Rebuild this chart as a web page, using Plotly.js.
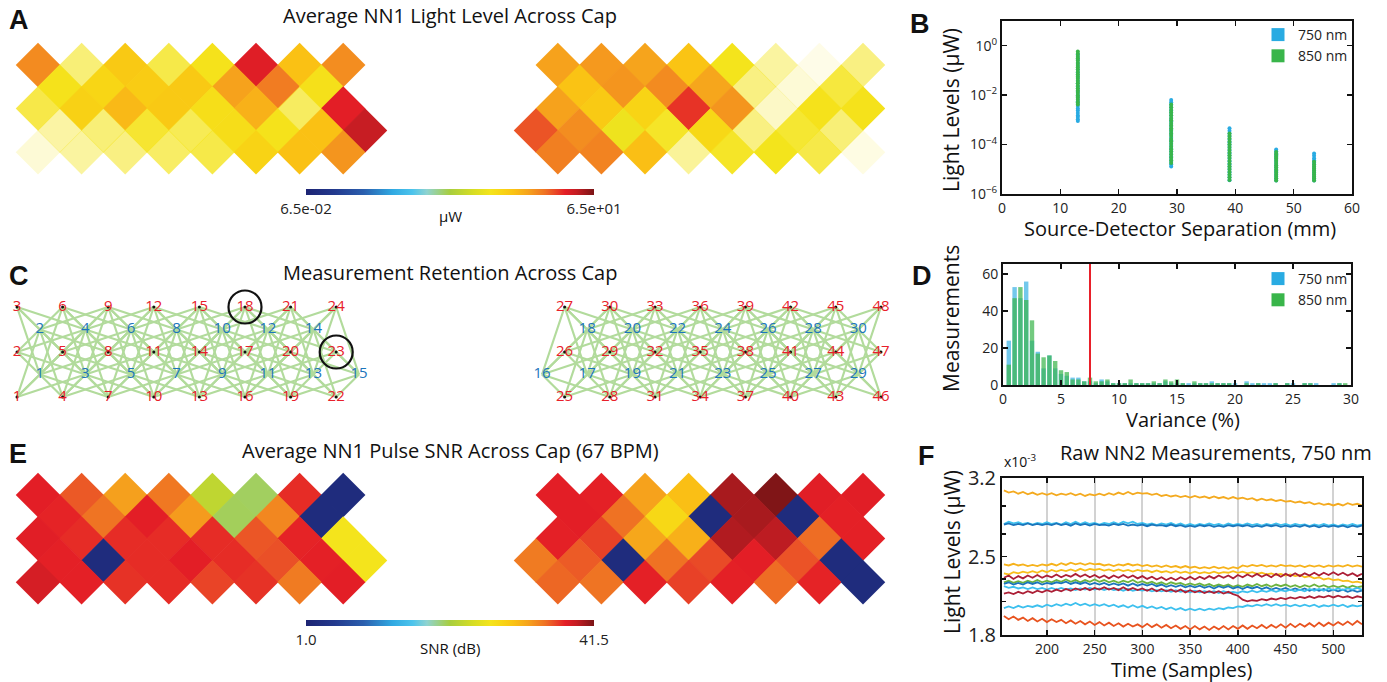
<!DOCTYPE html>
<html><head><meta charset="utf-8">
<script src="https://cdn.plot.ly/plotly-3.0.1.min.js"></script>
<style>html,body{margin:0;padding:0;background:#fff;}#chart{width:1387px;height:682px;}</style>
</head><body><div id="chart"></div>
<script>
// ================= DATA =================
// Cap lattice: columns occupied in each of the 5 measurement rows
const leftCols  = [[0,2,4,6,8,10,12,14],[1,3,5,7,9,11,13],[0,2,4,6,8,10,12,14],[1,3,5,7,9,11,13,15],[0,2,4,6,8,10,12,14]];
const rightCols = [[1,3,5,7,9,11,13,15],[2,4,6,8,10,12,14],[1,3,5,7,9,11,13,15],[0,2,4,6,8,10,12,14],[1,3,5,7,9,11,13,15]];

// Panel A: average NN1 light level (uW) and display alpha
const lightLeft = [[16.3,5.4,8.6,5.4,5.6,34,9.6,16],[5.6,7.0,8.2,8.6,13.5,18.5,5.8],[5.6,7.6,10.5,8.6,6.0,11.5,5.4,33],[5.4,5.4,5.6,5.4,6.2,5.6,9.6,42],[5.4,5.4,5.4,5.4,5.4,7.4,9.6,15]];
const alphaLeft = [[1,0.6,1,0.8,1,1,1,1],[1,1,1,1,1,1,1],[0.8,1,1,1,1,1,0.7,1],[0.4,0.6,0.9,0.75,1,1,1,1],[0.18,0.42,0.55,0.68,0.8,1,1,1]];
const lightRight = [[13.5,14.5,13.2,9.2,5.4,5.4,5.4,5.4],[9.4,15,16.3,13,5.4,5.4,5.4],[13.5,8.4,7.2,29,15,5.4,5.6,5.6],[24,16,5.0,5.4,6.8,5.4,5.4,5.4],[18,17.5,9.8,5.4,5.4,5.3,5.4,5.4]];
const alphaRight = [[1,1,1,1,1,0.42,0.1,0.55],[1,1,1,1,0.55,0.18,0.85],[1,1,1,1,1,0.25,1,1],[1,1,1,0.95,1,0.55,0.9,0.6],[1,1,1,0.45,0.95,1,0.8,0.12]];
const lightMin = 0.065, lightMax = 65;

// Panel E: average NN1 pulse SNR (dB)
const snrLeft = [[37.5,35.5,32.4,34.3,22.9,20.5,37.0,2.5],[37.3,34.5,37.5,32.6,20.6,33.6,2.5],[37.6,37.0,37.0,37.0,37.0,35.6,37.3,26.9],[37.4,2.5,37.0,37.5,37.0,35.8,37.4,26.9],[38.2,37.4,36.8,37.0,36.2,36.8,34.2,37.5]];
const snrRight = [[37.5,37.4,32.3,30.4,40.0,41.3,37.6,37.6],[37.5,34.6,28.2,2.5,40.0,2.5,37.4],[37.4,36.3,32.0,31.4,39.7,39.3,34.8,37.4],[34.2,35.4,2.5,34.6,36.0,37.5,35.7,2.5],[35.0,34.5,37.4,36.3,37.4,34.8,37.3,2.5]];
const snrMin = 1.0, snrMax = 41.5;

// Panel C: optode grid (half-spacing units)
const leftSrcLabel = [1,2,3,4,5,6,7,8,9,10,11,12,13,14,15,16,17,18,19,20,21,22,23,24];
const leftSrcU = [0,0,0,2,2,2,4,4,4,6,6,6,8,8,8,10,10,10,12,12,12,14,14,14];
const leftSrcV = [0,2,4,0,2,4,0,2,4,0,2,4,0,2,4,0,2,4,0,2,4,0,2,4];
const leftDetLabel = [1,2,3,4,5,6,7,8,9,10,11,12,13,14,15];
const leftDetU = [1,1,3,3,5,5,7,7,9,9,11,11,13,13,15];
const leftDetV = [1,3,1,3,1,3,1,3,1,3,1,3,1,3,1];
const rightSrcLabel = [25,26,27,28,29,30,31,32,33,34,35,36,37,38,39,40,41,42,43,44,45,46,47,48];
const rightSrcU = [1,1,1,3,3,3,5,5,5,7,7,7,9,9,9,11,11,11,13,13,13,15,15,15];
const rightSrcV = [0,2,4,0,2,4,0,2,4,0,2,4,0,2,4,0,2,4,0,2,4,0,2,4];
const rightDetLabel = [16,17,18,19,20,21,22,23,24,25,26,27,28,29,30];
const rightDetU = [0,2,2,4,4,6,6,8,8,10,10,12,12,14,14];
const rightDetV = [1,1,3,1,3,1,3,1,3,1,3,1,3,1,3];
const maxNeighborDist2 = 18;   // NN1-NN3 retained
const circledSources = [18, 23];

// Panel B: light level vs separation
const separations = [13, 29, 39, 47, 53.5];
const ll750_13 = [0.0009,0.00105,0.0013,0.0015,0.0019,0.0024,0.0029,0.0036,0.0045,0.0056,0.007,0.0088,0.011,0.014,0.018,0.023,0.03,0.038,0.05,0.065,0.085,0.11,0.15,0.2,0.27,0.35,0.45];
const ll850_13 = [0.0042,0.0052,0.0065,0.008,0.01,0.0125,0.0155,0.019,0.024,0.03,0.037,0.046,0.057,0.07,0.087,0.108,0.134,0.166,0.2,0.25,0.31,0.38,0.47,0.58];
const ll750_29 = [1.3e-5,1.6e-5,2e-5,2.6e-5,3.3e-5,4.2e-5,5.4e-5,7e-5,9e-5,1.15e-4,1.5e-4,1.9e-4,2.5e-4,3.2e-4,4.1e-4,5.3e-4,6.8e-4,8.8e-4,1.1e-3,1.45e-3,1.9e-3,2.4e-3,3.1e-3,4e-3,5.1e-3,6.3e-3];
const ll850_29 = [1.8e-5,2.3e-5,3e-5,4e-5,5.1e-5,6.5e-5,8.2e-5,1.05e-4,1.35e-4,1.7e-4,2.2e-4,2.8e-4,3.6e-4,4.6e-4,5.9e-4,7.5e-4,9.6e-4,1.2e-3,1.55e-3,2e-3,2.5e-3,3.2e-3,4.2e-3];
const ll750_39 = [3.6e-6,4.6e-6,5.9e-6,7.6e-6,9.8e-6,1.25e-5,1.6e-5,2.1e-5,2.7e-5,3.5e-5,4.5e-5,5.8e-5,7.5e-5,9.7e-5,1.25e-4,1.6e-4,2.1e-4,2.8e-4,3.6e-4,4.6e-4];
const ll850_39 = [3.7e-6,4.8e-6,6.2e-6,8e-6,1.03e-5,1.33e-5,1.7e-5,2.2e-5,2.9e-5,3.7e-5,4.8e-5,6.2e-5,8e-5,1.03e-4,1.33e-4,1.75e-4,2.3e-4,2.8e-4];
const ll750_47 = [3.5e-6,4.2e-6,5.1e-6,6.2e-6,7.6e-6,9.2e-6,1.12e-5,1.36e-5,1.65e-5,2e-5,2.45e-5,3e-5,3.7e-5,4.5e-5,5.4e-5,6.3e-5];
const ll850_47 = [3.5e-6,4.3e-6,5.3e-6,6.5e-6,8e-6,9.8e-6,1.2e-5,1.47e-5,1.8e-5,2.2e-5,2.7e-5,3.3e-5,4.1e-5,5e-5];
const ll750_53 = [3.5e-6,4.2e-6,5e-6,6e-6,7.2e-6,8.7e-6,1.05e-5,1.27e-5,1.55e-5,1.9e-5,2.3e-5,2.8e-5,3.5e-5,4.4e-5];
const ll850_53 = [3.5e-6,4.2e-6,5e-6,6e-6,7.2e-6,8.7e-6,1.05e-5,1.27e-5,1.55e-5,2e-5];

// Panel D: variance histogram
const varBins = [0.5,1,1.5,2,2.5,3,3.5,4,4.5,5,5.5,6,6.5,7,7.5,8,8.5,9,9.5,10,10.5,11,11.5,12,12.5,13,13.5,14,14.5,15,15.5,16,16.5,17,17.5,18,18.5,19,19.5,20,20.5,21,21.5,22,22.5,23,23.5,24,24.5,25,25.5,26,26.5,27,27.5,28,28.5,29,29.5];
const var750 = [24,53,47,56,24,18,9,16,9,6,5,4,4,2,2,1,3,2,1,1,1,1,1,1,1,1,1,2,1,1,1,1,1,1,1,2,1,1,1,1,0,2,1,1,1,1,1,0,1,1,0,1,1,1,0,0,1,1,0];
const var850 = [11,47,53,46,35,17,15,16,13,8,7,3,3,2,4,2,2,3,1,1,1,3,1,1,1,2,1,3,2,3,1,0,2,1,1,1,1,1,1,0,0,1,0,1,0,0,1,0,1,0,0,1,1,0,0,0,0,1,1];
const varianceThreshold = 7.5;

// Panel F: raw NN2 measurements (x10^-3 uW)
const tSamples = [155,160,165,170,175,180,185,190,195,200,205,210,215,220,225,230,235,240,245,250,255,260,265,270,275,280,285,290,295,300,305,310,315,320,325,330,335,340,345,350,355,360,365,370,375,380,385,390,395,400,405,410,415,420,425,430,435,440,445,450,455,460,465,470,475,480,485,490,495,500,505,510,515,520,525,530];
const nn2_a = [3.09,3.07,3.08,3.06,3.075,3.055,3.07,3.05,3.065,3.05,3.065,3.045,3.06,3.05,3.065,3.045,3.06,3.04,3.055,3.045,3.06,3.045,3.065,3.05,3.07,3.055,3.075,3.055,3.07,3.06,3.065,3.05,3.06,3.04,3.05,3.035,3.045,3.03,3.04,3.025,3.04,3.025,3.035,3.02,3.035,3.02,3.03,3.015,3.03,3.015,3.025,3.01,3.02,3.0,3.015,3.0,3.01,2.995,3.005,2.99,2.995,2.98,2.99,2.975,2.985,2.965,2.975,2.96,2.97,2.955,2.97,2.955,2.975,2.96,2.97,2.955];
const nn2_b = [2.79,2.81,2.795,2.805,2.79,2.80,2.785,2.80,2.79,2.805,2.79,2.80,2.785,2.805,2.79,2.81,2.79,2.805,2.79,2.80,2.785,2.80,2.79,2.805,2.79,2.81,2.795,2.81,2.79,2.80,2.785,2.795,2.78,2.795,2.785,2.80,2.78,2.795,2.775,2.79,2.775,2.79,2.78,2.795,2.78,2.79,2.775,2.795,2.78,2.79,2.78,2.795,2.78,2.79,2.775,2.79,2.78,2.795,2.78,2.79,2.775,2.79,2.78,2.785,2.77,2.785,2.775,2.79,2.775,2.785,2.77,2.785,2.775,2.79,2.775,2.785];
const nn2_c = [2.785,2.795,2.78,2.79,2.78,2.795,2.78,2.79,2.78,2.79,2.78,2.795,2.78,2.79,2.775,2.795,2.78,2.79,2.775,2.79,2.78,2.785,2.775,2.79,2.78,2.79,2.775,2.785,2.775,2.785,2.77,2.785,2.775,2.78,2.77,2.785,2.77,2.78,2.765,2.775,2.765,2.78,2.77,2.78,2.765,2.775,2.765,2.78,2.77,2.78,2.77,2.78,2.765,2.775,2.765,2.78,2.77,2.78,2.765,2.775,2.765,2.775,2.765,2.78,2.765,2.775,2.76,2.775,2.765,2.775,2.765,2.775,2.76,2.775,2.765,2.775];
const nn2_d = [2.43,2.42,2.435,2.42,2.43,2.415,2.425,2.415,2.43,2.42,2.435,2.42,2.44,2.425,2.445,2.43,2.44,2.425,2.44,2.43,2.435,2.42,2.43,2.415,2.43,2.42,2.435,2.42,2.43,2.415,2.425,2.41,2.42,2.405,2.42,2.405,2.415,2.40,2.415,2.40,2.41,2.395,2.405,2.395,2.41,2.395,2.405,2.39,2.405,2.395,2.42,2.41,2.425,2.415,2.425,2.41,2.42,2.41,2.425,2.415,2.42,2.41,2.42,2.405,2.42,2.41,2.42,2.405,2.42,2.41,2.42,2.41,2.425,2.41,2.42,2.41];
const nn2_e = [2.35,2.34,2.36,2.35,2.365,2.355,2.37,2.355,2.375,2.36,2.38,2.365,2.38,2.37,2.385,2.37,2.39,2.375,2.39,2.38,2.39,2.375,2.385,2.37,2.385,2.37,2.38,2.365,2.38,2.37,2.375,2.36,2.375,2.36,2.37,2.355,2.37,2.355,2.365,2.35,2.365,2.35,2.36,2.35,2.365,2.35,2.36,2.355,2.37,2.355,2.365,2.35,2.36,2.345,2.355,2.34,2.35,2.335,2.345,2.33,2.34,2.325,2.335,2.315,2.325,2.305,2.315,2.295,2.305,2.29,2.295,2.28,2.285,2.27,2.275,2.265];
const nn2_f = [2.31,2.33,2.30,2.325,2.305,2.33,2.31,2.335,2.31,2.33,2.315,2.34,2.315,2.335,2.32,2.345,2.32,2.34,2.315,2.335,2.31,2.33,2.305,2.33,2.31,2.335,2.31,2.33,2.305,2.325,2.30,2.32,2.295,2.315,2.29,2.31,2.29,2.315,2.295,2.32,2.295,2.32,2.30,2.325,2.305,2.33,2.31,2.33,2.305,2.335,2.315,2.34,2.32,2.345,2.32,2.34,2.315,2.345,2.32,2.345,2.325,2.35,2.325,2.35,2.33,2.355,2.33,2.355,2.335,2.36,2.335,2.355,2.33,2.35,2.325,2.345];
const nn2_g = [2.27,2.285,2.265,2.28,2.265,2.285,2.27,2.29,2.27,2.285,2.27,2.29,2.275,2.295,2.275,2.29,2.27,2.29,2.275,2.295,2.275,2.29,2.27,2.285,2.265,2.285,2.27,2.29,2.265,2.28,2.26,2.275,2.255,2.27,2.25,2.27,2.255,2.265,2.245,2.26,2.245,2.26,2.24,2.255,2.235,2.25,2.235,2.25,2.23,2.245,2.23,2.25,2.235,2.255,2.235,2.25,2.23,2.25,2.235,2.25,2.23,2.245,2.225,2.245,2.23,2.25,2.23,2.245,2.225,2.24,2.225,2.24,2.22,2.24,2.225,2.235];
const nn2_h = [2.255,2.27,2.25,2.265,2.25,2.27,2.255,2.27,2.25,2.265,2.255,2.27,2.26,2.275,2.255,2.27,2.255,2.27,2.25,2.265,2.25,2.265,2.245,2.26,2.245,2.26,2.24,2.26,2.24,2.255,2.24,2.255,2.235,2.25,2.23,2.245,2.23,2.245,2.225,2.24,2.225,2.24,2.22,2.235,2.215,2.235,2.22,2.235,2.215,2.23,2.21,2.23,2.215,2.23,2.21,2.225,2.205,2.22,2.205,2.22,2.2,2.215,2.2,2.215,2.195,2.21,2.195,2.21,2.19,2.205,2.19,2.205,2.185,2.2,2.185,2.195];
const nn2_i = [2.235,2.22,2.23,2.215,2.225,2.21,2.225,2.21,2.22,2.205,2.22,2.205,2.22,2.205,2.215,2.20,2.215,2.205,2.22,2.205,2.215,2.20,2.215,2.20,2.21,2.195,2.21,2.195,2.205,2.195,2.205,2.19,2.20,2.19,2.20,2.185,2.20,2.185,2.195,2.18,2.195,2.18,2.19,2.18,2.19,2.175,2.19,2.175,2.185,2.175,2.19,2.18,2.195,2.18,2.195,2.185,2.2,2.185,2.2,2.19,2.205,2.19,2.205,2.19,2.21,2.195,2.21,2.195,2.215,2.2,2.215,2.2,2.215,2.205,2.22,2.205];
const nn2_j = [2.17,2.18,2.165,2.185,2.17,2.19,2.175,2.195,2.18,2.2,2.185,2.205,2.19,2.21,2.195,2.215,2.2,2.22,2.2,2.22,2.205,2.225,2.205,2.22,2.2,2.225,2.2,2.22,2.2,2.215,2.195,2.215,2.19,2.21,2.19,2.205,2.185,2.205,2.18,2.2,2.18,2.195,2.175,2.19,2.175,2.19,2.17,2.185,2.165,2.15,2.115,2.1,2.11,2.105,2.12,2.11,2.125,2.115,2.13,2.12,2.135,2.125,2.14,2.13,2.145,2.13,2.145,2.135,2.15,2.135,2.15,2.135,2.145,2.13,2.145,2.135];
const nn2_k = [2.04,2.055,2.04,2.06,2.045,2.06,2.05,2.065,2.05,2.07,2.055,2.075,2.06,2.08,2.065,2.085,2.065,2.08,2.06,2.075,2.06,2.075,2.055,2.07,2.05,2.065,2.045,2.065,2.045,2.06,2.04,2.055,2.035,2.05,2.03,2.045,2.025,2.04,2.02,2.035,2.02,2.035,2.02,2.035,2.025,2.04,2.03,2.045,2.04,2.055,2.05,2.065,2.055,2.07,2.06,2.075,2.06,2.075,2.06,2.07,2.055,2.07,2.055,2.07,2.055,2.07,2.05,2.065,2.055,2.07,2.055,2.07,2.05,2.065,2.055,2.065];
const nn2_l = [1.97,1.94,1.965,1.935,1.955,1.925,1.95,1.92,1.945,1.915,1.94,1.915,1.935,1.905,1.93,1.9,1.925,1.895,1.92,1.89,1.915,1.885,1.91,1.88,1.905,1.875,1.9,1.875,1.895,1.87,1.9,1.87,1.895,1.865,1.89,1.86,1.885,1.855,1.88,1.85,1.88,1.85,1.875,1.845,1.875,1.85,1.88,1.85,1.88,1.855,1.885,1.855,1.885,1.86,1.89,1.86,1.89,1.865,1.895,1.865,1.9,1.87,1.9,1.875,1.905,1.875,1.91,1.88,1.91,1.885,1.915,1.89,1.92,1.89,1.925,1.895];

// ================= STYLE / LAYOUT =================
const W = 1387, H = 682;
const FONT = 'Open Sans, Noto Sans, sans-serif';
const xd = (a, b) => [a / W, b / W];
const yd = (top, bottom) => [1 - bottom / H, 1 - top / H];
const jet = [[0,'#1D2473'],[0.1,'#233A8E'],[0.2,'#2B5FAE'],[0.3,'#30A9E2'],[0.37,'#4DC4EC'],[0.42,'#8FD3D0'],[0.5,'#A8CE3E'],[0.58,'#D6DD24'],[0.64,'#F4E41C'],[0.68,'#F8D515'],[0.72,'#FAC314'],[0.77,'#F6A41C'],[0.8,'#F38B20'],[0.83,'#EF7223'],[0.86,'#EA4F27'],[0.9,'#E41E26'],[0.94,'#C41D23'],[1,'#7A1416']];
const DSIZE = 34.2;

function diamondTrace(cols, vals, alphas, xa, ya, toColor, cmin, cmax, colorbar) {
  const x = [], y = [], c = [], o = [];
  cols.forEach((row, r) => row.forEach((col, k) => {
    x.push(col); y.push(r); c.push(toColor(vals[r][k])); o.push(alphas ? alphas[r][k] : 1);
  }));
  return {type:'scatter', mode:'markers', x, y, xaxis:xa, yaxis:ya, cliponaxis:false, showlegend:false, hoverinfo:'skip',
    marker:{symbol:'diamond', size:DSIZE, color:c, opacity:o, colorscale:jet, cmin, cmax, line:{width:0},
      showscale: !!colorbar, colorbar: colorbar || undefined}};
}
const lg = v => Math.log10(v);
const lmin = lg(lightMin), lmax = lg(lightMax);
function hbar(cy, tv, tt) {
  return {orientation:'h', x:450/W, xanchor:'center', y:1-cy/H, yanchor:'middle', len:288, lenmode:'pixels',
    thickness:6, thicknessmode:'pixels', outlinewidth:0, ticks:'', tickvals:tv, ticktext:tt, xpad:0, ypad:0,
    tickfont:{family:FONT, size:15, color:'#222'}};
}

const traces = [];
traces.push(diamondTrace(leftCols, lightLeft, alphaLeft, 'x', 'y', lg, lmin, lmax, hbar(202.5, [lmin, lmax], ['6.5e-02','6.5e+01'])));
traces.push(diamondTrace(rightCols, lightRight, alphaRight, 'x2', 'y2', lg, lmin, lmax, null));
traces.push(diamondTrace(leftCols, snrLeft, null, 'x5', 'y5', v => v, snrMin, snrMax, hbar(633, [snrMin, snrMax], ['1.0','41.5'])));
traces.push(diamondTrace(rightCols, snrRight, null, 'x6', 'y6', v => v, snrMin, snrMax, null));

// Panel C network
function capTraces(sU, sV, sL, dU, dV, dL, xa, ya, circled) {
  const ex = [], ey = [];
  sU.forEach((su, i) => dU.forEach((du, j) => {
    const d2 = (su - du) ** 2 + (sV[i] - dV[j]) ** 2;
    if (d2 <= maxNeighborDist2) { ex.push(su, du, null); ey.push(sV[i], dV[j], null); }
  }));
  const out = [];
  out.push({type:'scatter', mode:'lines', x:ex, y:ey, xaxis:xa, yaxis:ya, line:{color:'#B2DB9C', width:2.2}, showlegend:false, hoverinfo:'skip', cliponaxis:false});
  out.push({type:'scatter', mode:'markers', x:sU, y:sV, xaxis:xa, yaxis:ya, marker:{size:3, color:'#111'}, showlegend:false, hoverinfo:'skip', cliponaxis:false});
  out.push({type:'scatter', mode:'text', x:sU, y:sV, text:sL.map(String), xaxis:xa, yaxis:ya, textposition:'middle center',
    textfont:{family:FONT, size:15, color:'#E8202A'}, showlegend:false, hoverinfo:'skip', cliponaxis:false});
  out.push({type:'scatter', mode:'text', x:dU, y:dV, text:dL.map(String), xaxis:xa, yaxis:ya, textposition:'middle center',
    textfont:{family:FONT, size:15, color:'#1C75BC'}, showlegend:false, hoverinfo:'skip', cliponaxis:false});
  if (circled) {
    const cx = [], cy = [];
    circled.forEach(n => { const i = sL.indexOf(n); cx.push(sU[i]); cy.push(sV[i]); });
    out.push({type:'scatter', mode:'markers', x:cx, y:cy, xaxis:xa, yaxis:ya, marker:{symbol:'circle-open', size:33, color:'#111', line:{width:2.2, color:'#111'}}, showlegend:false, hoverinfo:'skip', cliponaxis:false});
  }
  return out;
}
traces.push(...capTraces(leftSrcU, leftSrcV, leftSrcLabel, leftDetU, leftDetV, leftDetLabel, 'x3', 'y3', circledSources));
traces.push(...capTraces(rightSrcU, rightSrcV, rightSrcLabel, rightDetU, rightDetV, rightDetLabel, 'x4', 'y4', null));

// Panel B scatter
const C750 = '#29ABE2', C850 = '#39B54A';
const groups750 = [ll750_13, ll750_29, ll750_39, ll750_47, ll750_53];
const groups850 = [ll850_13, ll850_29, ll850_39, ll850_47, ll850_53];
function stripTrace(groups, color) {
  const x = [], y = [];
  groups.forEach((g, i) => g.forEach(v => { x.push(separations[i]); y.push(v); }));
  return {type:'scatter', mode:'markers', x, y, xaxis:'x7', yaxis:'y7', marker:{size:4, color}, showlegend:false, hoverinfo:'skip'};
}
traces.push(stripTrace(groups750, C750));
traces.push(stripTrace(groups850, C850));
traces.push({type:'scatter', mode:'markers', x:[null], y:[null], xaxis:'x7', yaxis:'y7', name:'750 nm', marker:{symbol:'square', size:13, color:C750}, legend:'legend'});
traces.push({type:'scatter', mode:'markers', x:[null], y:[null], xaxis:'x7', yaxis:'y7', name:'850 nm', marker:{symbol:'square', size:13, color:C850}, legend:'legend'});

// Panel D histogram
traces.push({type:'bar', x:varBins, y:var750, width:0.38, xaxis:'x8', yaxis:'y8', marker:{color:C750, line:{width:0}}, opacity:0.65, showlegend:false, hoverinfo:'skip'});
traces.push({type:'bar', x:varBins, y:var850, width:0.38, xaxis:'x8', yaxis:'y8', marker:{color:C850, line:{width:0}}, opacity:0.7, showlegend:false, hoverinfo:'skip'});
traces.push({type:'scatter', mode:'markers', x:[null], y:[null], xaxis:'x8', yaxis:'y8', name:'750 nm', marker:{symbol:'square', size:13, color:C750}, legend:'legend2'});
traces.push({type:'scatter', mode:'markers', x:[null], y:[null], xaxis:'x8', yaxis:'y8', name:'850 nm', marker:{symbol:'square', size:13, color:C850}, legend:'legend2'});

// Panel F lines
const fSeries = [nn2_a, nn2_b, nn2_c, nn2_d, nn2_e, nn2_f, nn2_g, nn2_h, nn2_i, nn2_j, nn2_k, nn2_l];
const fColors = ['#F4AA1F','#3DC0EE','#1B75BB','#F6B21B','#F8BE1A','#AC1F36','#6DB33F','#1B75BB','#3DC0EE','#AC1F36','#3DC0EE','#E8531F'];
fSeries.forEach((s, i) => traces.push({type:'scatter', mode:'lines', x:tSamples, y:s, xaxis:'x9', yaxis:'y9', line:{color:fColors[i], width:1.8}, showlegend:false, hoverinfo:'skip'}));

const hidden = (dom, rng) => ({domain:dom, range:rng, showgrid:false, zeroline:false, showticklabels:false, ticks:'', showline:false, fixedrange:true});
const framed = {showline:true, linewidth:2, linecolor:'#111', mirror:'ticks', ticks:'inside', ticklen:5, tickwidth:1.5, tickcolor:'#111', showgrid:false, zeroline:false, fixedrange:true, tickfont:{family:FONT, size:14, color:'#222'}};

const layout = {
  width:W, height:H, margin:{l:0, r:0, t:0, b:0}, paper_bgcolor:'#fff', plot_bgcolor:'rgba(0,0,0,0)',
  font:{family:FONT, color:'#111'}, barmode:'overlay', showlegend:true,
  xaxis:  Object.assign(hidden(xd(16.2, 386.8), [-1, 16]), {anchor:'y'}),
  yaxis:  Object.assign(hidden(yd(43.2, 174), [5, -1]), {anchor:'x'}),
  xaxis2: Object.assign(hidden(xd(514.2, 884.8), [-1, 16]), {anchor:'y2'}),
  yaxis2: Object.assign(hidden(yd(43.2, 174), [5, -1]), {anchor:'x2'}),
  xaxis3: Object.assign(hidden(xd(1.04, 374.96), [-0.7, 15.7]), {anchor:'y3'}),
  yaxis3: Object.assign(hidden(yd(284.5, 419.5), [-1, 5]), {anchor:'x3'}),
  xaxis4: Object.assign(hidden(xd(526.2, 896.8), [-0.7, 15.7]), {anchor:'y4'}),
  yaxis4: Object.assign(hidden(yd(284.5, 419.5), [-1, 5]), {anchor:'x4'}),
  xaxis5: Object.assign(hidden(xd(16.2, 386.8), [-1, 16]), {anchor:'y5'}),
  yaxis5: Object.assign(hidden(yd(473.2, 604), [5, -1]), {anchor:'x5'}),
  xaxis6: Object.assign(hidden(xd(514.2, 884.8), [-1, 16]), {anchor:'y6'}),
  yaxis6: Object.assign(hidden(yd(473.2, 604), [5, -1]), {anchor:'x6'}),
  xaxis7: Object.assign({}, framed, {domain:xd(1002, 1352), anchor:'y7', range:[0, 60], tickvals:[0,10,20,30,40,50,60]}),
  yaxis7: Object.assign({}, framed, {domain:yd(21, 194), anchor:'x7', type:'log', range:[-6, 1], tickvals:[1e-6,1e-4,1e-2,1],
          ticktext:['10<sup>−6</sup>','10<sup>−4</sup>','10<sup>−2</sup>','10<sup>0</sup>']}),
  xaxis8: Object.assign({}, framed, {domain:xd(1003, 1351), anchor:'y8', range:[0, 30], tickvals:[0,5,10,15,20,25,30]}),
  yaxis8: Object.assign({}, framed, {domain:yd(264, 385), anchor:'x8', range:[0, 65.5], tickvals:[0,20,40,60]}),
  xaxis9: Object.assign({}, framed, {domain:xd(1002, 1362), anchor:'y9', range:[153, 530], tickvals:[200,250,300,350,400,450,500],
          showgrid:true, gridcolor:'#D2D2D2', gridwidth:2}),
  yaxis9: Object.assign({}, framed, {domain:yd(478, 635), anchor:'x9', range:[1.8, 3.2], tickvals:[1.8,2.5,3.2],
          minor:{tickmode:'array', tickvals:[2.1,2.3,2.7,2.95], ticks:'inside', ticklen:4, tickwidth:1.2, tickcolor:'#111'},
          tickfont:{family:FONT, size:20, color:'#222'}}),
  legend:  {x:1258/W, y:1-19/H, xanchor:'left', yanchor:'top', bgcolor:'rgba(0,0,0,0)', font:{family:FONT, size:14, color:'#222'}, itemwidth:30, tracegroupgap:0},
  legend2: {x:1258/W, y:1-263/H, xanchor:'left', yanchor:'top', bgcolor:'rgba(0,0,0,0)', font:{family:FONT, size:14, color:'#222'}, itemwidth:30, tracegroupgap:0},
  shapes:[{type:'line', xref:'x8', yref:'y8 domain', x0:varianceThreshold, x1:varianceThreshold, y0:0, y1:1, line:{color:'#E8202A', width:2}}],
  annotations:[]
};

function ann(text, px, py, size, extra) {
  layout.annotations.push(Object.assign({text, x:px/W, y:1-py/H, xref:'paper', yref:'paper', xanchor:'center', yanchor:'middle',
    showarrow:false, font:{family:FONT, size, color:'#111'}}, extra || {}));
}
const LETTER = {family:'Liberation Sans, Arial, sans-serif', size:27, color:'#111'};
ann('<b>A</b>', 19, 20, 27, {font:LETTER});
ann('<b>B</b>', 920, 24, 27, {font:LETTER});
ann('<b>C</b>', 19, 276, 27, {font:LETTER});
ann('<b>D</b>', 922, 276, 27, {font:LETTER});
ann('<b>E</b>', 18, 454, 27, {font:LETTER});
ann('<b>F</b>', 926, 456, 27, {font:LETTER});
ann('Average NN1 Light Level Across Cap', 450, 16, 20);
ann('Measurement Retention Across Cap', 450, 272, 20);
ann('Average NN1 Pulse SNR Across Cap (67 BPM)', 450, 450, 20);
ann('Raw NN2 Measurements, 750 nm', 1216, 452, 20);
ann('μW', 450, 216, 15);
ann('SNR (dB)', 450, 648, 15);
ann('Light Levels (μW)', 951, 110, 21, {textangle:-90});
ann('Source-Detector Separation (mm)', 1180, 229, 20);
ann('Measurements', 951, 319, 21, {textangle:-90});
ann('Variance (%)', 1183, 419, 20);
ann('Light Levels (μW)', 952, 552, 21, {textangle:-90});
ann('Time (Samples)', 1182, 669, 20);
ann('x10<sup>-3</sup>', 1002, 461, 14, {xanchor:'left'});

Plotly.newPlot('chart', traces, layout, {staticPlot:true, displayModeBar:false});
</script></body></html>
